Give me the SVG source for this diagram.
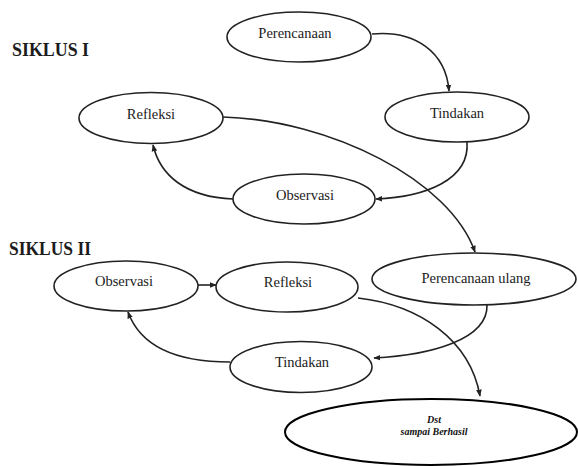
<svg xmlns="http://www.w3.org/2000/svg" width="578" height="466" viewBox="0 0 578 466">
  <style>
    .node ellipse { fill: #ffffff; stroke: #222222; stroke-width: 1.6; }
    .node text { font-family: "Liberation Serif", "Times New Roman", serif; font-size: 14.5px; fill: #1c1c1c; text-anchor: middle; }
    .title { font-family: "Liberation Serif", "Times New Roman", serif; font-size: 18px; font-weight: bold; fill: #1c1c1c; }
    .edge { fill: none; stroke: #222222; stroke-width: 1.6; marker-end: url(#arrow); }
    #dst ellipse { stroke: #000000; stroke-width: 2; }
    #dst text { font-family: "Liberation Serif", "DejaVu Serif", serif; font-size: 10px; font-style: italic; font-weight: bold; fill: #111111; }
  </style>
  <defs>
    <marker id="arrow" viewBox="0 0 10 10" refX="9" refY="5" markerWidth="7" markerHeight="7" markerUnits="userSpaceOnUse" orient="auto">
      <path d="M0,1 L10,5 L0,9 Z" fill="#222222"/>
    </marker>
  </defs>
  <rect width="578" height="466" fill="#ffffff"/>

  <text class="title" x="12" y="56" textLength="77" lengthAdjust="spacingAndGlyphs">SIKLUS I</text>
  <text class="title" x="9" y="255" textLength="82" lengthAdjust="spacingAndGlyphs">SIKLUS II</text>

  <g id="connectors">
    <!-- cycle I -->
    <path class="edge" d="M372,34 C415,30 446,52 449,91"/>
    <path class="edge" d="M467,142 C470,180 425,197 376,199"/>
    <path class="edge" d="M233,199 C185,197 160,175 153,145"/>
    <!-- hand-over to cycle II -->
    <path class="edge" d="M223,117 C330,120 450,180 475,252"/>
    <!-- cycle II -->
    <path class="edge" d="M487,305 C488,340 430,355 374,358"/>
    <path class="edge" d="M230,362 C175,362 140,345 128,312"/>
    <path class="edge" d="M198,285 L216,285"/>
    <path class="edge" d="M358,298 C420,305 470,340 480,396"/>
  </g>

  <g id="perencanaan" class="node">
    <ellipse cx="299" cy="37" rx="72" ry="25"/>
    <text x="295" y="38">Perencanaan</text>
  </g>
  <g id="tindakan1" class="node">
    <ellipse cx="457" cy="117" rx="72" ry="25"/>
    <text x="457" y="118">Tindakan</text>
  </g>
  <g id="refleksi1" class="node">
    <ellipse cx="151" cy="118" rx="72" ry="25.5"/>
    <text x="151" y="119">Refleksi</text>
  </g>
  <g id="observasi1" class="node">
    <ellipse cx="304" cy="199" rx="71" ry="25"/>
    <text x="305" y="200">Observasi</text>
  </g>

  <g id="observasi2" class="node">
    <ellipse cx="126" cy="286" rx="72" ry="25"/>
    <text x="124" y="286">Observasi</text>
  </g>
  <g id="refleksi2" class="node">
    <ellipse cx="287" cy="287" rx="71" ry="25"/>
    <text x="288" y="287">Refleksi</text>
  </g>
  <g id="perencanaan-ulang" class="node">
    <ellipse cx="474" cy="279" rx="102" ry="26"/>
    <text x="476" y="283">Perencanaan ulang</text>
  </g>
  <g id="tindakan2" class="node">
    <ellipse cx="301" cy="367" rx="71" ry="25.5"/>
    <text x="302" y="367">Tindakan</text>
  </g>

  <g id="dst" class="node">
    <ellipse cx="431" cy="432" rx="146" ry="33"/>
    <text x="434" y="423" text-anchor="middle">Dst</text>
    <text x="434" y="435" text-anchor="middle">sampai Berhasil</text>
  </g>
</svg>
